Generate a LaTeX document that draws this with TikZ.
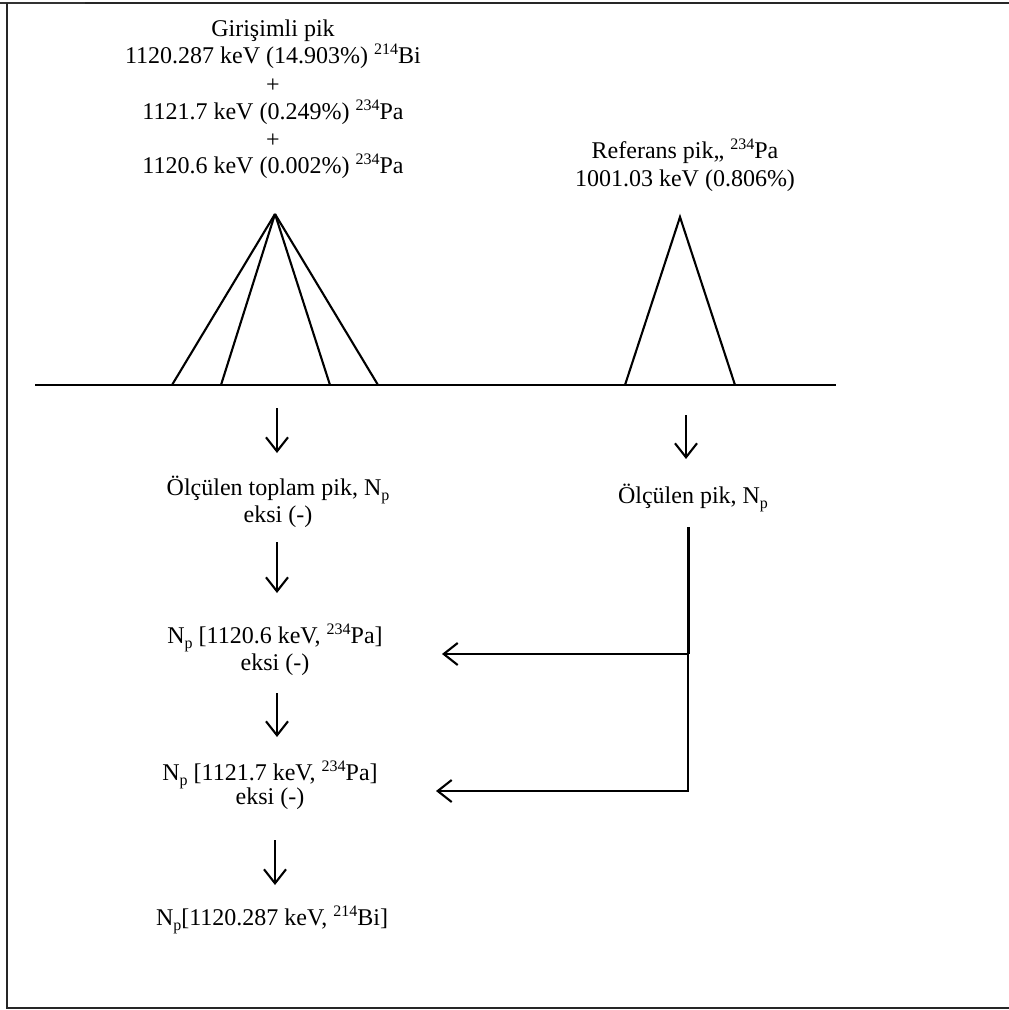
\documentclass[tikz,border=0pt]{standalone}
\usepackage{fontspec}
\setmainfont{Liberation Serif}
\usetikzlibrary{arrows.meta}
% raised / lowered small indices for nuclide masses and N_p
\newcommand\isotop[1]{\raisebox{0.36em}{\fontsize{16}{16}\selectfont #1}}
\newcommand\lowidx[1]{\raisebox{-0.22em}{\fontsize{16}{16}\selectfont #1}}

\begin{document}
\begin{tikzpicture}[x=1pt,y=1pt,
  lbl/.style={anchor=base, inner sep=0pt, font=\fontsize{24}{27.4}\selectfont},
  ln/.style={line width=2.1pt, line join=miter},
  flow/.style={line width=2.1pt, -{Straight Barb[length=14pt,width=22pt]}}]
\useasboundingbox (0,0) rectangle (1009,-1010);

% frame
\draw[line width=1.2pt, black!80] (0,-3) -- (85,-3);
\draw[line width=2pt, black!85] (85,-3) -- (1009,-3);
\draw[line width=2pt, black!85] (7,-3) -- (7,-1008) -- (1009,-1008);

% interfering peak description
\node[lbl] (g1) at (273,-36) {Girişimli pik};
\node[lbl] (g2) at (273,-63) {1120.287 keV (14.903\%) \isotop{214}Bi};
\node[lbl] (g3) at (273,-92) {+};
\node[lbl] (g4) at (273,-119) {1121.7 keV (0.249\%) \isotop{234}Pa};
\node[lbl] (g5) at (273,-147) {+};
\node[lbl] (g6) at (273,-173) {1120.6 keV (0.002\%) \isotop{234}Pa};

% reference peak description
\node[lbl] (r1) at (685,-158) {Referans pik,, \isotop{234}Pa};
\node[lbl] (r2) at (685,-186) {1001.03 keV (0.806\%)};

% spectrum axis and peaks
\coordinate (axL) at (35,-385);
\coordinate (axR) at (836,-385);
\draw[ln] (axL) -- (axR);
\coordinate (pk1) at (275,-214);
\foreach \bx in {172,221,330,378} \draw[ln] (pk1) -- (\bx,-385);
\coordinate (pk2) at (680,-217);
\draw[ln] (625,-385) -- (pk2) -- (735,-385);

% left chain
\node[lbl] (s1) at (278,-495) {Ölçülen toplam pik, N\lowidx{p}};
\node[lbl] (s1b) at (278,-522) {eksi (-)};
\node[lbl] (s2) at (275,-643) {N\lowidx{p} [1120.6 keV, \isotop{234}Pa]};
\node[lbl] (s2b) at (275,-670) {eksi (-)};
\node[lbl] (s3) at (270,-780) {N\lowidx{p} [1121.7 keV, \isotop{234}Pa]};
\node[lbl] (s3b) at (270,-804) {eksi (-)};
\node[lbl] (s4) at (272,-925) {N\lowidx{p}[1120.287 keV, \isotop{214}Bi]};

\coordinate (a1s) at (277,-408); \coordinate (a1e) at (277,-453);
\coordinate (a2s) at (277,-542); \coordinate (a2e) at (277,-593);
\coordinate (a3s) at (277,-693); \coordinate (a3e) at (277,-737);
\coordinate (a4s) at (275,-840); \coordinate (a4e) at (275,-885);
\draw[flow] (a1s) -- (a1e);
\draw[flow] (a2s) -- (a2e);
\draw[flow] (a3s) -- (a3e);
\draw[flow] (a4s) -- (a4e);

% right chain
\node[lbl] (m1) at (693,-503) {Ölçülen pik, N\lowidx{p}};
\coordinate (b1s) at (686,-415); \coordinate (b1e) at (686,-459);
\draw[flow] (b1s) -- (b1e);

\coordinate (v0) at (688,-527);
\coordinate (v1) at (688,-654);
\coordinate (v2) at (688,-791);
\coordinate (h1) at (442,-654);
\coordinate (h2) at (436,-791);
\draw[line width=3pt] (v0) -- (v1);
\draw[flow] (v1) -- (h1);
\draw[flow] (v1) -- (v2) -- (h2);
\end{tikzpicture}
\end{document}
